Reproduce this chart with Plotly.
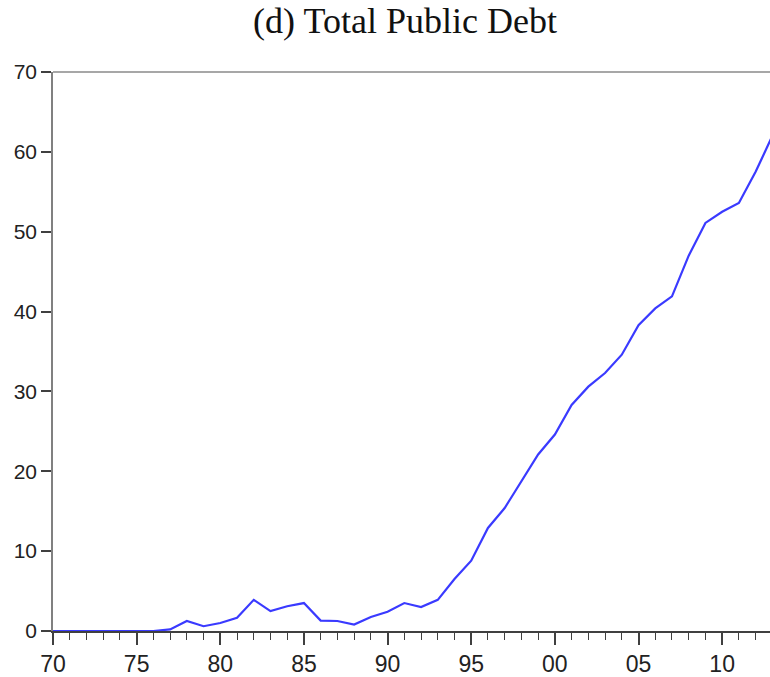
import plotly.graph_objects as go

# Total public debt, annual series
years = list(range(1970, 2014))
debt = [0, 0, 0, 0, 0, 0, 0, 0.2, 1.25, 0.6,
        1.0, 1.65, 3.9, 2.5, 3.1, 3.5, 1.3, 1.25, 0.8, 1.75,
        2.4, 3.5, 3.0, 3.9, 6.5, 8.8, 12.9, 15.4, 18.8, 22.1,
        24.6, 28.3, 30.6, 32.3, 34.6, 38.3, 40.4, 41.9, 47.0, 51.1,
        52.5, 53.6, 57.5, 62.0]

x_tick_vals = [1970, 1975, 1980, 1985, 1990, 1995, 2000, 2005, 2010]
x_tick_text = ["70", "75", "80", "85", "90", "95", "00", "05", "10"]
y_tick_vals = [0, 10, 20, 30, 40, 50, 60, 70]

fig = go.Figure()
fig.add_trace(go.Scatter(
    x=years, y=debt, mode="lines",
    line=dict(color="#3a3aff", width=2.2),
    showlegend=False, hoverinfo="x+y",
))

# gray frame line along the top of the plot area
fig.add_shape(type="line", xref="paper", yref="paper",
              x0=0, x1=1, y0=1, y1=1,
              line=dict(color="#8a8a8a", width=1.5), layer="above")

fig.update_layout(
    width=770, height=677,
    margin=dict(l=53, r=0, t=72, b=43),
    paper_bgcolor="white", plot_bgcolor="white",
    title=dict(
        text="(d) Total Public Debt",
        font=dict(family="Liberation Serif, Times New Roman, serif", size=36, color="#111111"),
        x=405 / 770, xanchor="center", xref="container",
        y=1 - 8 / 677, yanchor="top", yref="container",
    ),
    xaxis=dict(
        range=[1970, 2012.86], showgrid=False, zeroline=False,
        showline=True, linecolor="#404040", linewidth=1.5,
        tickmode="array", tickvals=x_tick_vals, ticktext=x_tick_text,
        ticks="outside", ticklen=12, tickwidth=1.5, tickcolor="#404040",
        minor=dict(dtick=1, tick0=1970, ticks="outside", ticklen=7,
                   tickwidth=1.2, tickcolor="#404040", showgrid=False),
        tickfont=dict(family="Liberation Sans, Arial, sans-serif", size=23, color="#222222"),
    ),
    yaxis=dict(
        range=[0, 70], showgrid=False, zeroline=False,
        showline=True, linecolor="#808080", linewidth=1.5,
        tickmode="array", tickvals=y_tick_vals,
        ticks="outside", ticklen=10, tickwidth=1.5, tickcolor="#404040",
        tickfont=dict(family="Liberation Sans, Arial, sans-serif", size=21, color="#222222"),
    ),
)

fig.write_html("out.html")
